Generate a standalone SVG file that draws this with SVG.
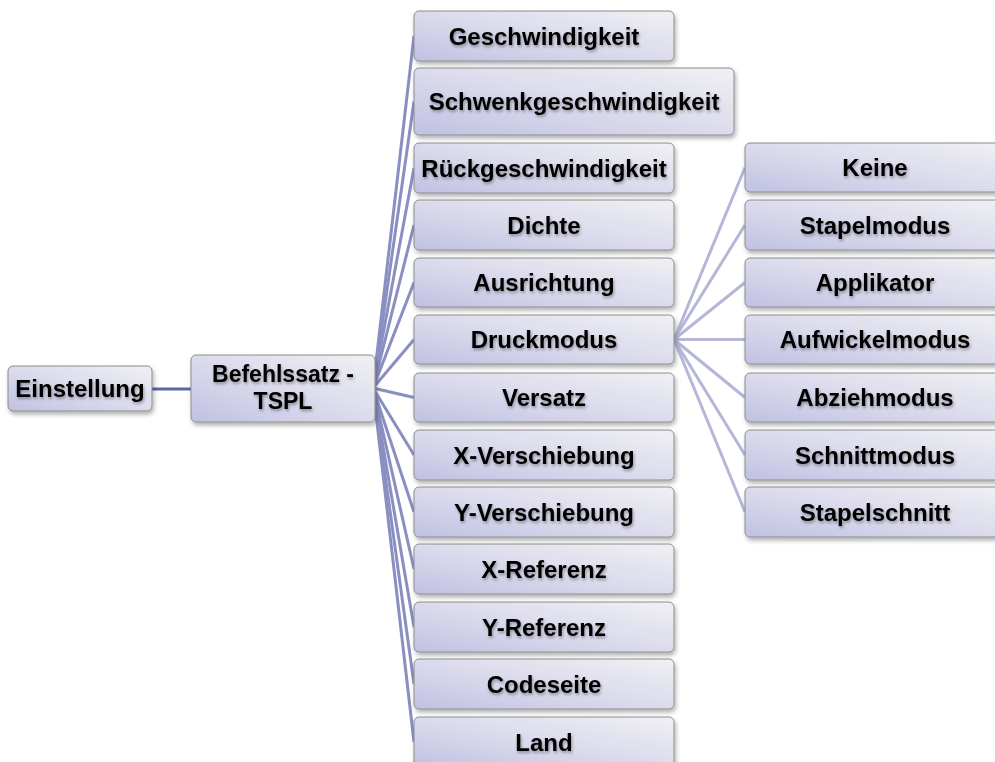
<svg xmlns="http://www.w3.org/2000/svg" width="995" height="762" viewBox="0 0 995 762">
<defs>
<linearGradient id="g" x1="0" y1="1" x2="1" y2="0">
<stop offset="0" stop-color="#c0c1e2"/>
<stop offset="0.45" stop-color="#d9d9ec"/>
<stop offset="1" stop-color="#f0f0f3"/>
</linearGradient>
<filter id="sh" x="-10%" y="-20%" width="130%" height="160%">
<feDropShadow dx="1.5" dy="3" stdDeviation="2" flood-color="#000" flood-opacity="0.3"/>
</filter>
<filter id="tsh" x="-10%" y="-30%" width="120%" height="170%">
<feDropShadow dx="1" dy="2" stdDeviation="1.5" flood-color="#000" flood-opacity="0.35"/>
</filter>
</defs>
<style>
.b{fill:url(#g);stroke:#8c8c8c;stroke-width:1;filter:url(#sh)}
.t{font-family:"Liberation Sans",Arial,sans-serif;font-weight:bold;font-size:24px;fill:#000;text-anchor:middle;filter:url(#tsh)}
.t2{font-size:23px}
.c0{stroke:#5d66a6;stroke-width:3;fill:none}
.c1{stroke:#8a8fc2;stroke-width:3;fill:none}
.c2{stroke:#b6b7d8;stroke-width:3;fill:none}
</style>
<rect width="995" height="762" fill="#fff"/>
<g id="connectors">
<line class="c0" x1="152" y1="389" x2="191" y2="389"/>
<g class="c1">
<line x1="373" y1="388" x2="414" y2="36"/>
<line x1="373" y1="388" x2="414" y2="101.5"/>
<line x1="373" y1="388" x2="414" y2="168"/>
<line x1="373" y1="388" x2="414" y2="225"/>
<line x1="373" y1="388" x2="414" y2="282.5"/>
<line x1="373" y1="388" x2="414" y2="339.5"/>
<line x1="373" y1="388" x2="414" y2="397.5"/>
<line x1="373" y1="388" x2="414" y2="455"/>
<line x1="373" y1="388" x2="414" y2="512"/>
<line x1="373" y1="388" x2="414" y2="569"/>
<line x1="373" y1="388" x2="414" y2="627"/>
<line x1="373" y1="388" x2="414" y2="684"/>
<line x1="373" y1="388" x2="414" y2="742"/>
</g>
<g class="c2">
<line x1="674" y1="339.5" x2="745" y2="167.5"/>
<line x1="674" y1="339.5" x2="745" y2="225"/>
<line x1="674" y1="339.5" x2="745" y2="282.5"/>
<line x1="674" y1="339.5" x2="745" y2="339.5"/>
<line x1="674" y1="339.5" x2="745" y2="397.5"/>
<line x1="674" y1="339.5" x2="745" y2="455"/>
<line x1="674" y1="339.5" x2="745" y2="512"/>
</g>
</g>
<g id="n-einstellung"><rect class="b" x="8" y="366" width="144" height="45" rx="5"/><text class="t" x="80" y="397">Einstellung</text></g>
<g id="n-befehlssatz"><rect class="b" x="191" y="355" width="184" height="67" rx="5"/><text class="t t2" x="283" y="382">Befehlssatz -</text><text class="t t2" x="283" y="409">TSPL</text></g>
<g id="n-geschwindigkeit"><rect class="b" x="414" y="11" width="260" height="50" rx="5"/><text class="t" x="544" y="44.5">Geschwindigkeit</text></g>
<g id="n-schwenk"><rect class="b" x="414" y="68" width="320" height="67" rx="5"/><text class="t" x="574" y="110">Schwenkgeschwindigkeit</text></g>
<g id="n-rueck"><rect class="b" x="414" y="143" width="260" height="50" rx="5"/><text class="t" x="544" y="176.5">Rückgeschwindigkeit</text></g>
<g id="n-dichte"><rect class="b" x="414" y="200" width="260" height="50" rx="5"/><text class="t" x="544" y="233.5">Dichte</text></g>
<g id="n-ausrichtung"><rect class="b" x="414" y="258" width="260" height="49" rx="5"/><text class="t" x="544" y="291">Ausrichtung</text></g>
<g id="n-druckmodus"><rect class="b" x="414" y="315" width="260" height="49" rx="5"/><text class="t" x="544" y="348">Druckmodus</text></g>
<g id="n-versatz"><rect class="b" x="414" y="373" width="260" height="49" rx="5"/><text class="t" x="544" y="406">Versatz</text></g>
<g id="n-xversch"><rect class="b" x="414" y="430" width="260" height="50" rx="5"/><text class="t" x="544" y="463.5">X-Verschiebung</text></g>
<g id="n-yversch"><rect class="b" x="414" y="487" width="260" height="50" rx="5"/><text class="t" x="544" y="520.5">Y-Verschiebung</text></g>
<g id="n-xref"><rect class="b" x="414" y="544" width="260" height="50" rx="5"/><text class="t" x="544" y="577.5">X-Referenz</text></g>
<g id="n-yref"><rect class="b" x="414" y="602" width="260" height="50" rx="5"/><text class="t" x="544" y="635.5">Y-Referenz</text></g>
<g id="n-codeseite"><rect class="b" x="414" y="659" width="260" height="50" rx="5"/><text class="t" x="544" y="692.5">Codeseite</text></g>
<g id="n-land"><rect class="b" x="414" y="717" width="260" height="50" rx="5"/><text class="t" x="544" y="750.5">Land</text></g>
<g id="n-keine"><rect class="b" x="745" y="143" width="260" height="49" rx="5"/><text class="t" x="875" y="176">Keine</text></g>
<g id="n-stapelmodus"><rect class="b" x="745" y="200" width="260" height="50" rx="5"/><text class="t" x="875" y="233.5">Stapelmodus</text></g>
<g id="n-applikator"><rect class="b" x="745" y="258" width="260" height="49" rx="5"/><text class="t" x="875" y="291">Applikator</text></g>
<g id="n-aufwickel"><rect class="b" x="745" y="315" width="260" height="49" rx="5"/><text class="t" x="875" y="348">Aufwickelmodus</text></g>
<g id="n-abzieh"><rect class="b" x="745" y="373" width="260" height="49" rx="5"/><text class="t" x="875" y="406">Abziehmodus</text></g>
<g id="n-schnitt"><rect class="b" x="745" y="430" width="260" height="50" rx="5"/><text class="t" x="875" y="463.5">Schnittmodus</text></g>
<g id="n-stapelschnitt"><rect class="b" x="745" y="487" width="260" height="50" rx="5"/><text class="t" x="875" y="520.5">Stapelschnitt</text></g>
</svg>
